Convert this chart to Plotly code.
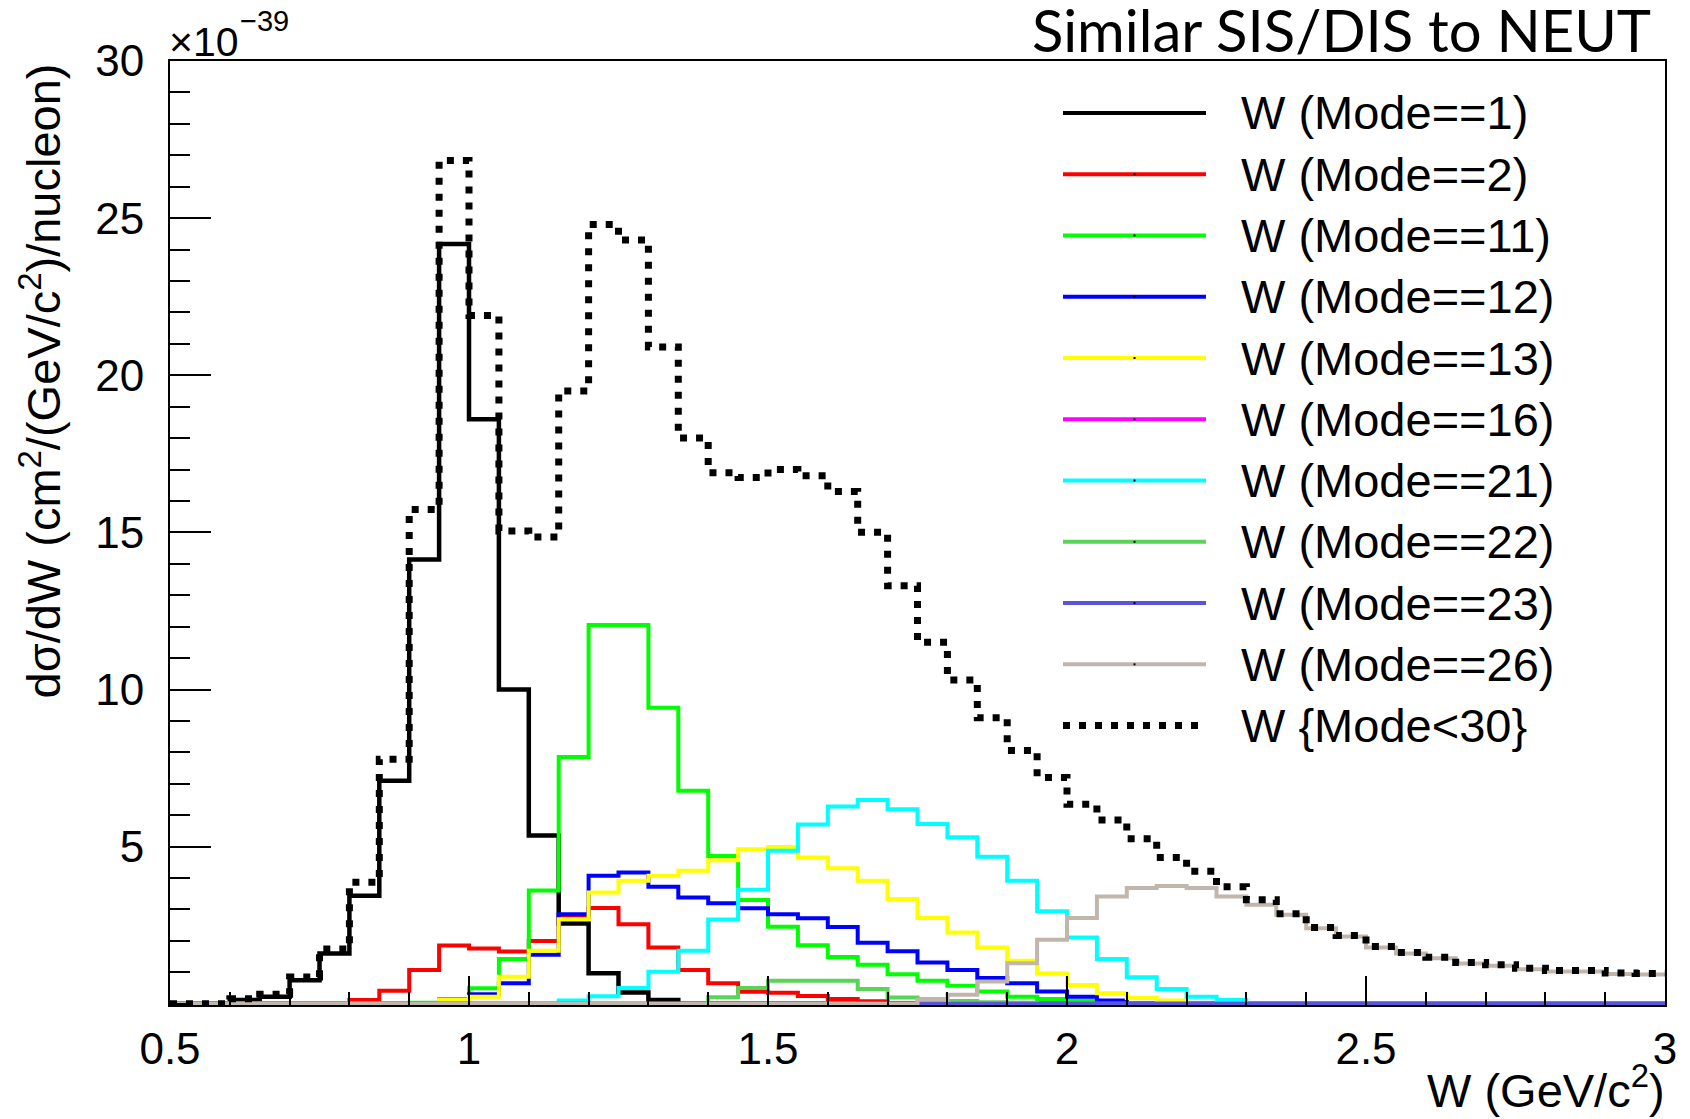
import plotly.graph_objects as go

# Binning of the W histograms (GeV/c^2)
W_MIN = 0.5
BIN_WIDTH = 0.05
N_BINS = 50

# dsigma/dW per interaction mode, in units of 1e-39 cm^2/(GeV/c^2)/nucleon
mode1 = [0, 0, 0.12, 0.22, 0.75, 1.60, 3.44, 7.10, 14.14, 24.18,
         18.60, 10.00, 5.35, 2.55, 0.97, 0.36, 0.12, 0, 0, 0,
         0, 0, 0, 0, 0, 0, 0, 0, 0, 0,
         0, 0, 0, 0, 0, 0, 0, 0, 0, 0,
         0, 0, 0, 0, 0, 0, 0, 0, 0, 0]
mode2 = [0, 0, 0, 0, 0, 0, 0.12, 0.41, 1.07, 1.85,
         1.76, 1.66, 2.00, 2.75, 3.05, 2.53, 1.79, 1.07, 0.65, 0.38,
         0.35, 0.25, 0.15, 0.08, 0, 0, 0, 0, 0, 0,
         0, 0, 0, 0, 0, 0, 0, 0, 0, 0,
         0, 0, 0, 0, 0, 0, 0, 0, 0, 0]
mode11 = [0, 0, 0, 0, 0, 0, 0, 0, 0.03, 0.15,
          0.49, 1.42, 3.60, 7.85, 12.05, 12.05, 9.42, 6.78, 4.70, 3.30,
          2.45, 1.86, 1.49, 1.24, 0.94, 0.73, 0.57, 0.39, 0.22, 0.15,
          0.10, 0.05, 0, 0, 0, 0, 0, 0, 0, 0,
          0, 0, 0, 0, 0, 0, 0, 0, 0, 0]
mode12 = [0, 0, 0, 0, 0, 0, 0, 0, 0, 0,
          0.30, 0.65, 1.56, 2.85, 4.07, 4.18, 3.72, 3.38, 3.20, 3.04,
          2.85, 2.72, 2.44, 1.94, 1.67, 1.31, 1.07, 0.82, 0.65, 0.39,
          0.22, 0.10, 0, 0, 0, 0, 0, 0, 0, 0,
          0, 0, 0, 0, 0, 0, 0, 0, 0, 0]
mode13 = [0, 0, 0, 0, 0, 0, 0, 0, 0, 0.12,
          0.22, 0.86, 1.69, 2.69, 3.54, 3.91, 4.07, 4.23, 4.57, 4.92,
          4.99, 4.65, 4.31, 3.91, 3.33, 2.73, 2.27, 1.79, 1.37, 0.96,
          0.60, 0.33, 0.18, 0.10, 0, 0, 0, 0, 0, 0,
          0, 0, 0, 0, 0, 0, 0, 0, 0, 0]
mode16 = [0, 0, 0, 0, 0, 0, 0, 0, 0, 0,
          0, 0, 0, 0, 0, 0, 0, 0, 0, 0,
          0, 0, 0, 0, 0, 0, 0, 0, 0, 0,
          0, 0, 0, 0, 0, 0, 0, 0, 0, 0,
          0, 0, 0, 0, 0, 0, 0, 0, 0, 0]
mode21 = [0, 0, 0, 0, 0, 0, 0, 0, 0, 0,
          0, 0, 0, 0.10, 0.24, 0.50, 1.02, 1.69, 2.68, 3.63,
          4.87, 5.70, 6.28, 6.48, 6.19, 5.72, 5.30, 4.68, 3.91, 2.94,
          2.11, 1.42, 0.84, 0.47, 0.22, 0.12, 0, 0, 0, 0,
          0, 0, 0, 0, 0, 0, 0, 0, 0, 0]
mode22 = [0, 0, 0, 0, 0, 0, 0, 0, 0, 0,
          0, 0, 0, 0, 0, 0, 0, 0, 0.21, 0.50,
          0.73, 0.73, 0.73, 0.47, 0.20, 0.14, 0.09, 0.05, 0.03, 0,
          0, 0, 0, 0, 0, 0, 0, 0, 0, 0,
          0, 0, 0, 0, 0, 0, 0, 0, 0, 0]
mode23 = [0, 0, 0, 0, 0, 0, 0, 0, 0, 0,
          0, 0, 0, 0, 0, 0, 0, 0, 0, 0,
          0, 0, 0, 0, 0, 0, 0, 0, 0, 0,
          0, 0, 0, 0, 0, 0, 0, 0, 0, 0,
          0, 0, 0, 0, 0, 0, 0, 0, 0, 0]
mode26 = [0, 0, 0, 0, 0, 0, 0, 0, 0, 0,
          0, 0, 0, 0, 0, 0, 0, 0, 0, 0,
          0, 0, 0, 0, 0, 0.13, 0.29, 0.71, 1.29, 2.04,
          2.73, 3.41, 3.68, 3.75, 3.68, 3.41, 3.15, 2.83, 2.40, 2.14,
          1.79, 1.60, 1.45, 1.28, 1.21, 1.10, 1.03, 1.03, 0.95, 0.93]
mode_all = [0, 0, 0.16, 0.30, 0.85, 1.74, 3.87, 7.78, 15.73, 26.83,
            21.90, 15.04, 14.85, 19.50, 24.80, 24.30, 20.90, 18.00, 16.90, 16.75,
            17.00, 16.80, 16.30, 15.00, 13.30, 11.50, 10.30, 9.10, 8.06, 7.20,
            6.35, 5.85, 5.25, 4.65, 4.22, 3.72, 3.31, 2.86, 2.43, 2.17,
            1.82, 1.63, 1.48, 1.31, 1.24, 1.13, 1.06, 1.06, 0.98, 0.96]

legend_labels = ["W (Mode==1)", "W (Mode==2)", "W (Mode==11)", "W (Mode==12)",
                 "W (Mode==13)", "W (Mode==16)", "W (Mode==21)", "W (Mode==22)",
                 "W (Mode==23)", "W (Mode==26)", "W {Mode&lt;30}"]
y_tick_values = [5, 10, 15, 20, 25, 30]

# (values, colour, width, dash) in drawing order
series = [
    (mode1, "#000000", 4.5, "solid"),
    (mode2, "#ff0000", 4, "solid"),
    (mode11, "#00ff00", 4, "solid"),
    (mode12, "#0000ff", 4, "solid"),
    (mode13, "#ffff00", 4, "solid"),
    (mode16, "#ff00ff", 4, "solid"),
    (mode21, "#00ffff", 4, "solid"),
    (mode22, "#59d454", 4, "solid"),
    (mode23, "#5954d8", 4, "solid"),
    (mode26, "#c0b6ac", 4, "solid"),
    (mode_all, "#000000", 7, "7px,9px"),
]

edges = [round(W_MIN + BIN_WIDTH * i, 4) for i in range(N_BINS + 1)]

fig = go.Figure()
for (vals, col, lw, dash), name in zip(series, legend_labels):
    fig.add_trace(go.Scatter(
        x=edges, y=list(vals) + [vals[-1]], mode="lines",
        line=dict(color=col, width=lw, dash=dash, shape="hv"),
        name=name, hoverinfo="skip"))

# page geometry (pixels)
W_PX, H_PX = 1690, 1119
L, R, T, B = 170, 25, 61, 114
PW, PH = W_PX - L - R, H_PX - T - B


def px_x(x):
    return (x - L) / PW


def px_y(y):
    return (H_PX - B - y) / PH


FONT = "Liberation Sans, Arial, Helvetica, sans-serif"

shapes = []
annotations = []

# legend: long line samples with text
leg_x0, leg_x1, leg_text_x = 1063, 1206, 1239
leg_y0, leg_dy = 113, 61.26
for i, ((vals, col, lw, dash), lab) in enumerate(zip(series, legend_labels)):
    yy = leg_y0 + leg_dy * i
    x_end = leg_x1 if dash == "solid" else 1200
    shapes.append(dict(type="line", xref="paper", yref="paper",
                       x0=px_x(leg_x0), x1=px_x(x_end), y0=px_y(yy), y1=px_y(yy),
                       line=dict(color=col, width=4 if dash == "solid" else 7,
                                 dash=dash)))
    if dash == "solid":
        shapes.append(dict(type="rect", xref="paper", yref="paper",
                           x0=px_x(1133.5), x1=px_x(1135.5),
                           y0=px_y(yy + 1), y1=px_y(yy - 1),
                           line=dict(width=0), fillcolor="black"))
    annotations.append(dict(text=lab, xref="paper", yref="paper",
                            x=px_x(leg_text_x), y=px_y(yy),
                            xanchor="left", yanchor="middle", showarrow=False,
                            font=dict(family=FONT, size=47, color="black")))

# axis titles
annotations.append(dict(
    text="d\u03c3/dW (cm<sup>2</sup>/(GeV/c<sup>2</sup>)/nucleon)",
    xref="paper", yref="paper", x=px_x(40), y=px_y(62),
    xanchor="center", yanchor="top", textangle=-90, showarrow=False,
    font=dict(family=FONT, size=47, color="black")))
annotations.append(dict(
    text="W (GeV/c<sup>2</sup>)", xref="paper", yref="paper",
    x=px_x(1667), y=px_y(1087), xanchor="right", yanchor="middle",
    showarrow=False, font=dict(family=FONT, size=47, color="black")))

# axis exponent
annotations.append(dict(
    text="\u00d710", xref="paper", yref="paper", x=px_x(167), y=px_y(42),
    xanchor="left", yanchor="middle", showarrow=False,
    font=dict(family=FONT, size=41, color="black")))
annotations.append(dict(
    text="\u221239", xref="paper", yref="paper", x=px_x(238), y=px_y(21),
    xanchor="left", yanchor="middle", showarrow=False,
    font=dict(family=FONT, size=29, color="black")))

# title
annotations.append(dict(
    text="Similar SIS/DIS to NEUT", xref="paper", yref="paper",
    x=px_x(1653), y=px_y(29), xanchor="right", yanchor="middle",
    showarrow=False, font=dict(family="Lato, Open Sans, sans-serif", size=58,
                               color="black")))

fig.update_layout(
    width=W_PX, height=H_PX,
    margin=dict(l=L, r=R, t=T, b=B, pad=0),
    paper_bgcolor="white", plot_bgcolor="white",
    showlegend=False,
    font=dict(family=FONT, color="black"),
    shapes=shapes, annotations=annotations,
)
fig.update_xaxes(
    range=[0.5, 3.0], showgrid=False, zeroline=False,
    showline=True, mirror=True, linecolor="black", linewidth=2,
    ticks="inside", ticklen=29, tickwidth=2, tickcolor="black",
    tick0=0.5, dtick=0.5, tickfont=dict(family=FONT, size=44, color="black"),
    ticklabelstandoff=4,
    minor=dict(tick0=0.5, dtick=0.1, ticks="inside", ticklen=13,
               tickwidth=2, tickcolor="black", showgrid=False),
)
fig.update_yaxes(
    range=[-0.04, 30], showgrid=False, zeroline=False,
    showline=True, mirror=True, linecolor="black", linewidth=2,
    ticks="inside", ticklen=41, tickwidth=2, tickcolor="black",
    tickmode="array", tickvals=y_tick_values,
    tickfont=dict(family=FONT, size=44, color="black"),
    ticklabelstandoff=15,
    minor=dict(tick0=0, dtick=1, ticks="inside", ticklen=20,
               tickwidth=2, tickcolor="black", showgrid=False),
)

fig.write_html("out.html")
